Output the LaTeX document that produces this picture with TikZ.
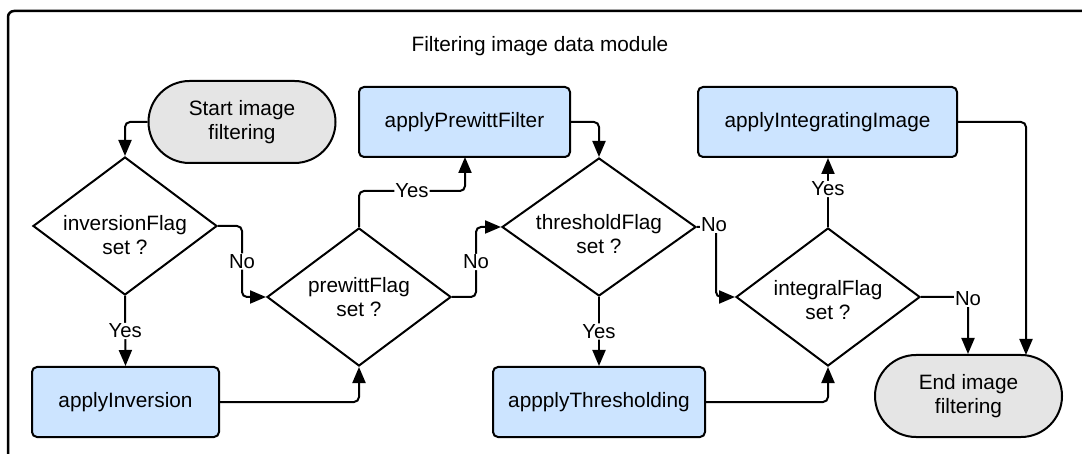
\documentclass[tikz,border=0pt]{standalone}
\usepackage{fontspec}
\setmainfont{Liberation Sans}
\usetikzlibrary{arrows.meta,shapes.geometric}
\definecolor{procblue}{RGB}{204,228,255}
\definecolor{termgrey}{RGB}{229,229,229}
\begin{document}
\begin{tikzpicture}[x=1pt,y=-1pt,
  every node/.style={font=\fontsize{20.8}{24.5}\selectfont, inner sep=0pt},
  proc/.style={draw, line width=2pt, fill=procblue, rounded corners=5pt, minimum height=70pt, align=center},
  term/.style={draw, line width=2pt, fill=termgrey, rounded corners=41pt, minimum width=187pt, minimum height=82pt, align=center},
  decide/.style={draw, line width=2pt, diamond, fill=white, minimum width=184pt, minimum height=138pt},
  qtext/.style={align=center},
  lbl/.style={fill=white, font=\fontsize{20.3}{22}\selectfont, inner sep=1pt},
  arr/.style={line width=2pt, rounded corners=5pt, -{Triangle[length=16pt,width=13pt]}}]
\useasboundingbox (0,0) rectangle (1082,454);

% outer module frame, running off the right and bottom edges
\begin{scope}
  \clip (0,0) rectangle (1082,454);
  \draw[line width=2.5pt, rounded corners=6pt] (8,11) rectangle (1110,490);
\end{scope}

\node (title) at (540,46) {Filtering image data module};

% terminals
\node[term] (start) at (242,122) {Start image\\filtering};
\node[term] (stop) at (968.5,396) {End image\\filtering};

% decisions (text sits in a centred label so it does not widen the diamond)
\node[decide, label={[qtext, yshift=-9pt]center:inversionFlag\\set ?}] (inv) at (125,226) {};
\node[decide, label={[qtext]center:prewittFlag\\set ?}] (prew) at (359,297) {};
\node[decide, minimum width=194pt, label={[qtext, yshift=-7pt]center:thresholdFlag\\set ?}] (thr) at (599,227) {};
\node[decide, label={[qtext, yshift=-3pt]center:integralFlag\\set ?}] (integ) at (828,297) {};

% processes
\node[proc, minimum width=187pt] (appinv) at (125.5,402) {applyInversion};
\node[proc, minimum width=211pt] (pf) at (464.5,122) {applyPrewittFilter};
\node[proc, minimum width=212pt] (appthr) at (599,402) {appplyThresholding};
\node[proc, minimum width=259pt] (pi) at (827.5,122) {applyIntegratingImage};

% helper points for bends
\coordinate (invbend) at (242,226);
\coordinate (prewbend) at (476,297);
\coordinate (thrbend) at (716,227);
\coordinate (intbend) at (968,297);
\coordinate (prewup) at (359,191);
\coordinate (pfin) at (465,157);
\coordinate (stopin) at (1026,355);
\coordinate (pibend) at (1026,122);

% connectors
\draw[arr] (start.west) -| (inv.north);
\draw[arr] (inv.south) -- node[lbl]{Yes} (appinv.north);
\draw[arr] (inv.east) -- (invbend) -- node[lbl]{No} (invbend |- prew.west) -- (prew.west);
\draw[arr] (appinv.east) -| (prew.south);
\draw[arr] (prew.north) -- (prewup) -- node[lbl]{Yes} (prewup -| pfin) -- (pfin);
\draw[arr] (pf.east) -| (thr.north);
\draw[arr] (prew.east) -- (prewbend) -- node[lbl]{No} (prewbend |- thr.west) -- (thr.west);
\draw[arr] (thr.south) -- node[lbl]{Yes} (appthr.north);
\draw[arr] (appthr.east) -| (integ.south);
\draw[arr] (thr.east) -- (thrbend) -- (thrbend |- integ.west) -- (integ.west);
\node[lbl] (thrno) at (714,225) {No};
\draw[arr] (integ.north) -- node[lbl, pos=0.55]{Yes} (integ.north |- pi.south);
\draw[arr] (pi.east) -- (pibend) -- (stopin);
\draw[arr] (integ.east) -- (intbend) -- (intbend |- stop.north);
\node[lbl] (intno) at (968,299) {No};
\end{tikzpicture}
\end{document}
